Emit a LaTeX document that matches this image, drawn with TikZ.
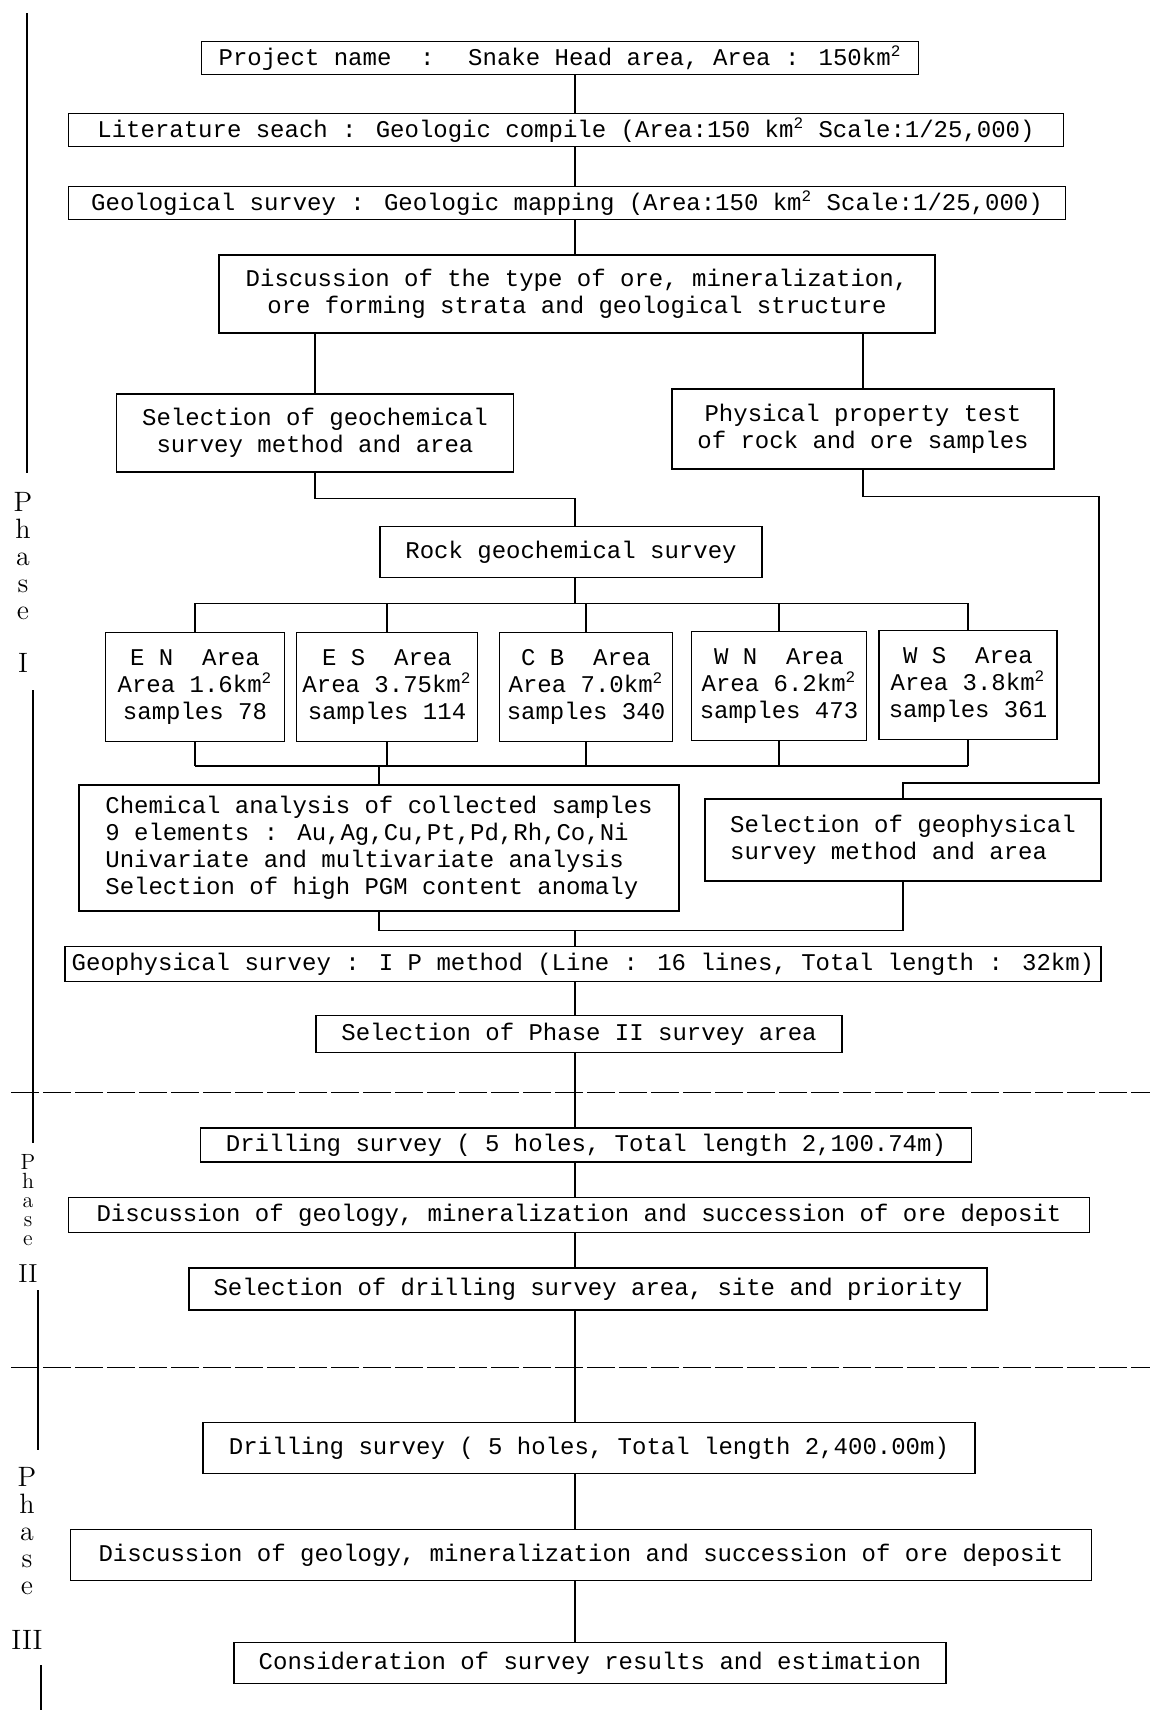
\documentclass[tikz,border=0pt]{standalone}
\usepackage{fontspec}
\newfontfamily\boxfont{Liberation Mono}
\begin{document}
\begin{tikzpicture}[x=0.5pt, y=-0.5pt, line width=0.7pt,
    box/.style={draw, inner sep=0pt, align=center, font=\boxfont\fontsize{12}{13.5}\selectfont},
    phaselabel/.style={align=center, inner sep=0pt, font=\fontsize{14}{13.5}\selectfont},
    divider/.style={dash pattern=on 14pt off 2pt, line width=0.5pt}]
\useasboundingbox (0,0) rectangle (1150,1710);
\coordinate (spine) at (575,0);
\node[box, minimum width=358.5pt, minimum height=16.5pt] (proj) at (560,58) {Project name~ :~ Snake Head area, Area : 150km\textsuperscript{2}};
\node[box, minimum width=497.5pt, minimum height=16.5pt] (lit) at (566,130) {Literature seach : Geologic compile (Area:150 km\textsuperscript{2} Scale:1/25,000)};
\node[box, minimum width=498.5pt, minimum height=16.5pt] (geo) at (567,203) {Geological survey : Geologic mapping (Area:150 km\textsuperscript{2} Scale:1/25,000)};
\node[box, minimum width=358pt, minimum height=39pt] (disc) at (577,294) {Discussion of the type of ore, mineralization,\\ore forming strata and geological structure};
\node[box, minimum width=198.5pt, minimum height=39pt] (geochem) at (315,433) {Selection of geochemical\\survey method and area};
\node[box, minimum width=191pt, minimum height=40pt] (phys) at (863,429) {Physical property test\\of rock and ore samples};
\node[box, minimum width=191pt, minimum height=25.5pt] (rock) at (571,552) {Rock geochemical survey};
\node[box, minimum width=89.5pt, minimum height=54.5pt] (en) at (195,687) {E N~ Area\\Area 1.6km\textsuperscript{2}\\samples 78};
\node[box, minimum width=90.5pt, minimum height=54.5pt] (es) at (387,687) {E S~ Area\\Area 3.75km\textsuperscript{2}\\samples 114};
\node[box, minimum width=86.5pt, minimum height=54.5pt] (cb) at (586,687) {C B~ Area\\Area 7.0km\textsuperscript{2}\\samples 340};
\node[box, minimum width=87.5pt, minimum height=54.5pt] (wn) at (779,686) {W N~ Area\\Area 6.2km\textsuperscript{2}\\samples 473};
\node[box, minimum width=89pt, minimum height=54.5pt] (ws) at (968,685) {W S~ Area\\Area 3.8km\textsuperscript{2}\\samples 361};
\node[box, align=left, minimum width=300pt, minimum height=63pt] (chem) at (379,848) {Chemical analysis of collected samples\\9 elements : Au,Ag,Cu,Pt,Pd,Rh,Co,Ni\\Univariate and multivariate analysis\\Selection of high PGM content anomaly};
\node[box, align=left, minimum width=198pt, minimum height=41pt] (geophys) at (903,840) {Selection of geophysical\\survey method and area};
\node[box, minimum width=518pt, minimum height=17.5pt] (ip) at (583,964) {Geophysical survey : I P method (Line : 16 lines, Total length : 32km)};
\node[box, minimum width=263pt, minimum height=18.5pt] (selp2) at (579,1034) {Selection of Phase II survey area};
\node[box, minimum width=385.5pt, minimum height=17pt] (drill1) at (586,1145) {Drilling survey ( 5 holes, Total length 2,100.74m)};
\node[box, minimum width=510.5pt, minimum height=17.5pt] (disc2) at (579,1215) {Discussion of geology, mineralization and succession of ore deposit};
\node[box, minimum width=399pt, minimum height=21pt] (seldrill) at (588,1289) {Selection of drilling survey area, site and priority};
\node[box, minimum width=386pt, minimum height=25.5pt] (drill2) at (589,1448) {Drilling survey ( 5 holes, Total length 2,400.00m)};
\node[box, minimum width=510.5pt, minimum height=25.5pt] (disc3) at (581,1555) {Discussion of geology, mineralization and succession of ore deposit};
\node[box, minimum width=356pt, minimum height=20.5pt] (consid) at (590,1663) {Consideration of survey results and estimation};

\draw (spine |- proj.south) -- (spine |- lit.north);
\draw (spine |- lit.south) -- (spine |- geo.north);
\draw (spine |- geo.south) -- (spine |- disc.north);
\draw (geochem.north |- disc.south) -- (geochem.north);
\draw (phys.north |- disc.south) -- (phys.north);
\draw (geochem.south) -- ++(0,26) -| (spine |- rock.north);
\draw (phys.south) -- ++(0,27) -| (1099,783) -| (geophys.north);
\draw (spine |- rock.south) -- ++(0,25) coordinate (busa);
\draw (busa -| en.north) -- (busa -| ws.north);
\coordinate (busb) at (0,766);
\draw (busb -| en.south) -- (busb -| ws.south);
\foreach \n in {en,es,cb,wn,ws} {
  \draw (busa -| \n.north) -- (\n.north);
  \draw (\n.south) -- (busb -| \n.south);
}
\draw (busb -| chem.north) -- (chem.north);
\draw (chem.south) -- ++(0,19) -| (geophys.south);
\draw (spine |- ip.north) -- ++(0,-16);
\foreach \a/\b in {ip/selp2, selp2/drill1, drill1/disc2, disc2/seldrill, seldrill/drill2, drill2/disc3, disc3/consid}
  \draw (spine |- \a.south) -- (spine |- \b.north);

\draw[divider] (11,1092) -- (1150,1092);
\draw[divider] (11,1367) -- (1150,1367);

\node[phaselabel] (ph1) at (23,556) {P\\h\\a\\s\\e};
\node[phaselabel] (num1) at (23,663) {I};
\node[phaselabel, font=\fontsize{11}{9.6}\selectfont] (ph2) at (28,1200) {P\\h\\a\\s\\e};
\node[phaselabel, font=\fontsize{13}{13}\selectfont] (num2) at (28,1274) {II};
\node[phaselabel] (ph3) at (27,1531) {P\\h\\a\\s\\e};
\node[phaselabel] (num3) at (27,1640) {III};
\draw (27,13) -- (27,473);
\draw (33,690) -- (33,1143);
\draw (38,1290) -- (38,1450);
\draw (41,1665) -- (41,1710);
\end{tikzpicture}
\end{document}
